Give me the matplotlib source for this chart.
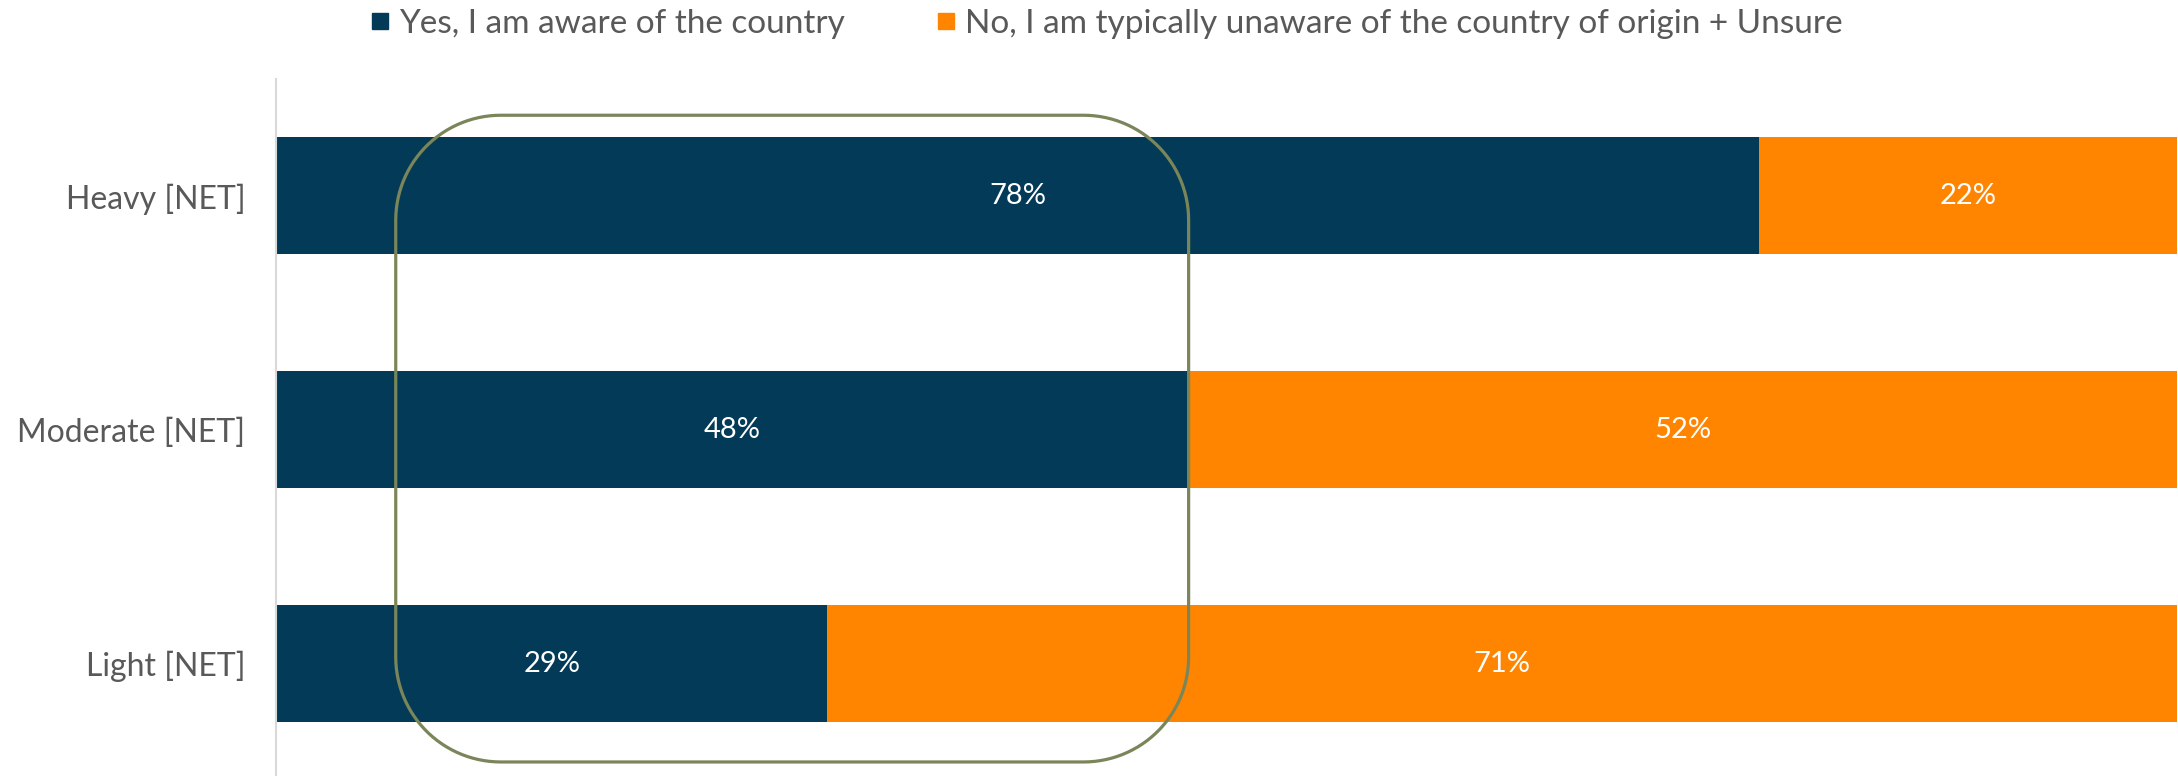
import numpy as np
import matplotlib.pyplot as plt
from matplotlib.lines import Line2D
from matplotlib.patches import PathPatch
from matplotlib.path import Path

plt.rcParams['font.family'] = ['Lato', 'DejaVu Sans']

groups = ['Heavy [NET]', 'Moderate [NET]', 'Light [NET]']
aware = [78, 48, 29]
unaware = [22, 52, 71]
series_names = ['Yes, I am aware of the country',
                'No, I am typically unaware of the country of origin + Unsure']

navy = '#033A57'
orange = '#FF8500'
grey_text = '#595959'

fig = plt.figure(figsize=(21.78, 7.76), dpi=100)
ax = fig.add_axes([0.1267, 0.0, 0.8730, 0.8982])

y = list(range(len(groups)))
ax.barh(y, aware, height=0.5, color=navy)
ax.barh(y, unaware, left=aware, height=0.5, color=orange)

# percentage labels centred in each segment
for i in y:
    ax.text(aware[i] / 2, i, f'{aware[i]}%', ha='center', va='center',
            color='white', fontsize=21)
    ax.text(aware[i] + unaware[i] / 2, i, f'{unaware[i]}%', ha='center',
            va='center', color='white', fontsize=21)

ax.set_xlim(0, 100)
ax.set_ylim(2.48, -0.5)
ax.set_yticks(y)
ax.set_yticklabels(groups, fontsize=23, color=grey_text)
ax.tick_params(axis='y', length=0, pad=22)
ax.set_xticks([])
for s in ['top', 'right', 'bottom']:
    ax.spines[s].set_visible(False)
ax.spines['left'].set_color('#D9D9D9')
ax.spines['left'].set_linewidth(1.5)


def rounded_rect(x0, x1, y0, y1, rx, ry, n=30):
    # closed outline with elliptical corners (rx, ry in data units)
    pts = []
    corners = [(x1 - rx, y0 + ry, -90, 0), (x1 - rx, y1 - ry, 0, 90),
               (x0 + rx, y1 - ry, 90, 180), (x0 + rx, y0 + ry, 180, 270)]
    for cx, cy, a0, a1 in corners:
        t = np.radians(np.linspace(a0, a1, n))
        pts += list(zip(cx + rx * np.cos(t), cy + ry * np.sin(t)))
    pts.append(pts[0])
    return Path(pts)


# highlight around the left part of the bars (y axis is inverted)
outline = rounded_rect(6.3, 48.0, -0.345, 2.42, 105 / 19, 105 / 234)
ax.add_patch(PathPatch(outline, facecolor='none', edgecolor='#7A8659',
                       linewidth=2.3, clip_on=False, zorder=5))

handles = [Line2D([], [], marker='s', linestyle='none', markersize=11, color=c)
           for c in (navy, orange)]
fig.legend(handles, series_names, loc='center left',
           bbox_to_anchor=(372 / 2178, 1 - 24 / 776), ncol=2, frameon=False,
           prop={'size': 24}, labelcolor=grey_text,
           handlelength=0.5, handletextpad=0.3, columnspacing=2.8,
           borderpad=0, borderaxespad=0)

plt.savefig('out.png', dpi=100)
